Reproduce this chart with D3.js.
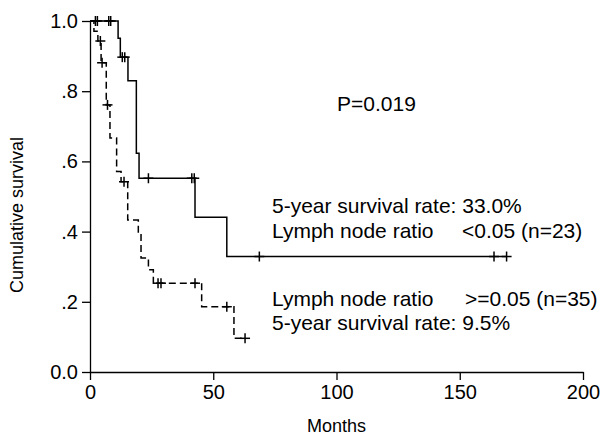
<!DOCTYPE html>
<html>
<head>
<meta charset="utf-8">
<script src="https://cdn.jsdelivr.net/npm/d3@7"></script>
<style>
  body { margin: 0; background: #fff; }
  svg { display: block; font-family: "Liberation Sans", Arial, sans-serif; }
  .axis path, .axis line { stroke: #000; stroke-width: 1.3; }
  .axis text { fill: #000; font-size: 20px; }
</style>
</head>
<body>
<svg id="chart" width="616" height="437"></svg>
<script>
// lymph node ratio < 0.05 (n=23) - solid
const lowTimes = [0, 11.4, 12.3, 15.4, 18.8, 19.9, 42.6, 55.5];
const lowSurv = [1, 0.951, 0.897, 0.830, 0.623, 0.552, 0.441, 0.329];
const lowCensor = [2.2, 3.0, 7.6, 8.4, 13.1, 14.1, 23.7, 41.3, 42.3, 68.7, 163.9, 169.0];

// lymph node ratio >= 0.05 (n=35) - dashed
const highTimes = [0, 1.6, 3.2, 4.5, 6.6, 8.1, 10.8, 12.6, 15.3, 19.6, 20.7, 23.7, 25.7, 45.3, 58.4];
const highSurv = [1, 0.971, 0.943, 0.881, 0.761, 0.667, 0.571, 0.542, 0.433, 0.399, 0.325, 0.291, 0.253, 0.186, 0.096];
const highCensor = [4.2, 4.9, 7.1, 13.8, 27.6, 28.8, 42.6, 55.5, 62.9];

const xTicks = [0, 50, 100, 150, 200];
const yTicks = [0, 0.2, 0.4, 0.6, 0.8, 1.0];
const yTickLabels = ["0.0", ".2", ".4", ".6", ".8", "1.0"];

const svg = d3.select("#chart");

var x = d3.scaleLinear().domain([0, 200]).range([90, 583]);
var y = d3.scaleLinear().domain([0, 1]).range([372, 21]);

// axes
svg.append("g")
    .attr("class", "axis")
    .attr("transform", "translate(0," + y(0) + ")")
    .call(d3.axisBottom(x).tickValues(xTicks).tickSize(8).tickSizeOuter(0).tickPadding(5));

svg.append("g")
    .attr("class", "axis")
    .attr("transform", "translate(" + x(0) + ",0)")
    .call(d3.axisLeft(y).tickValues(yTicks).tickSize(8).tickSizeOuter(0).tickPadding(4)
        .tickFormat(function (d, i) { return yTickLabels[i]; }));

svg.append("text")
    .attr("transform", "translate(23," + 215 + ") rotate(-90)")
    .attr("text-anchor", "middle")
    .attr("font-size", 18)
    .text("Cumulative survival");

svg.append("text")
    .attr("x", x(100)).attr("y", 432)
    .attr("text-anchor", "middle")
    .attr("font-size", 18)
    .text("Months");

// step curves
function survAt(times, surv, t) {
    var i = d3.bisectRight(times, t) - 1;
    return surv[Math.max(i, 0)];
}

function drawCurve(times, surv, censor, dash) {
    var end = d3.max(censor.concat(times));
    var pts = times.map(function (t, i) { return [t, surv[i]]; });
    pts.push([end, surv[surv.length - 1]]);

    var line = d3.line()
        .x(function (d) { return x(d[0]); })
        .y(function (d) { return y(d[1]); })
        .curve(d3.curveStepAfter);

    svg.append("path")
        .datum(pts)
        .attr("d", line)
        .attr("fill", "none")
        .attr("stroke", "#000")
        .attr("stroke-width", 1.5)
        .attr("stroke-dasharray", dash);

    var marks = svg.append("g").selectAll(".cens")
        .data(censor)
        .enter().append("g")
        .attr("transform", function (d) {
            return "translate(" + x(d) + "," + y(survAt(times, surv, d)) + ")";
        });
    marks.append("line")
        .attr("x1", 0).attr("x2", 0).attr("y1", -5).attr("y2", 5)
        .attr("stroke", "#000").attr("stroke-width", 1.5);
    marks.append("line")
        .attr("x1", -5).attr("x2", 5).attr("y1", 0).attr("y2", 0)
        .attr("stroke", "#000").attr("stroke-width", 1.5);
}

drawCurve(lowTimes, lowSurv, lowCensor, null);
drawCurve(highTimes, highSurv, highCensor, "7,4");

// annotations
function note(tx, ty, s) {
    svg.append("text").attr("x", tx).attr("y", ty).attr("font-size", 21).text(s);
}
note(337, 111, "P=0.019");
note(272, 213, "5-year survival rate: 33.0%");
note(272, 238, "Lymph node ratio");
note(462, 238, "<0.05 (n=23)");
note(272, 306, "Lymph node ratio");
note(465, 306, ">=0.05 (n=35)");
note(272, 330, "5-year survival rate: 9.5%");
</script>
</body>
</html>
